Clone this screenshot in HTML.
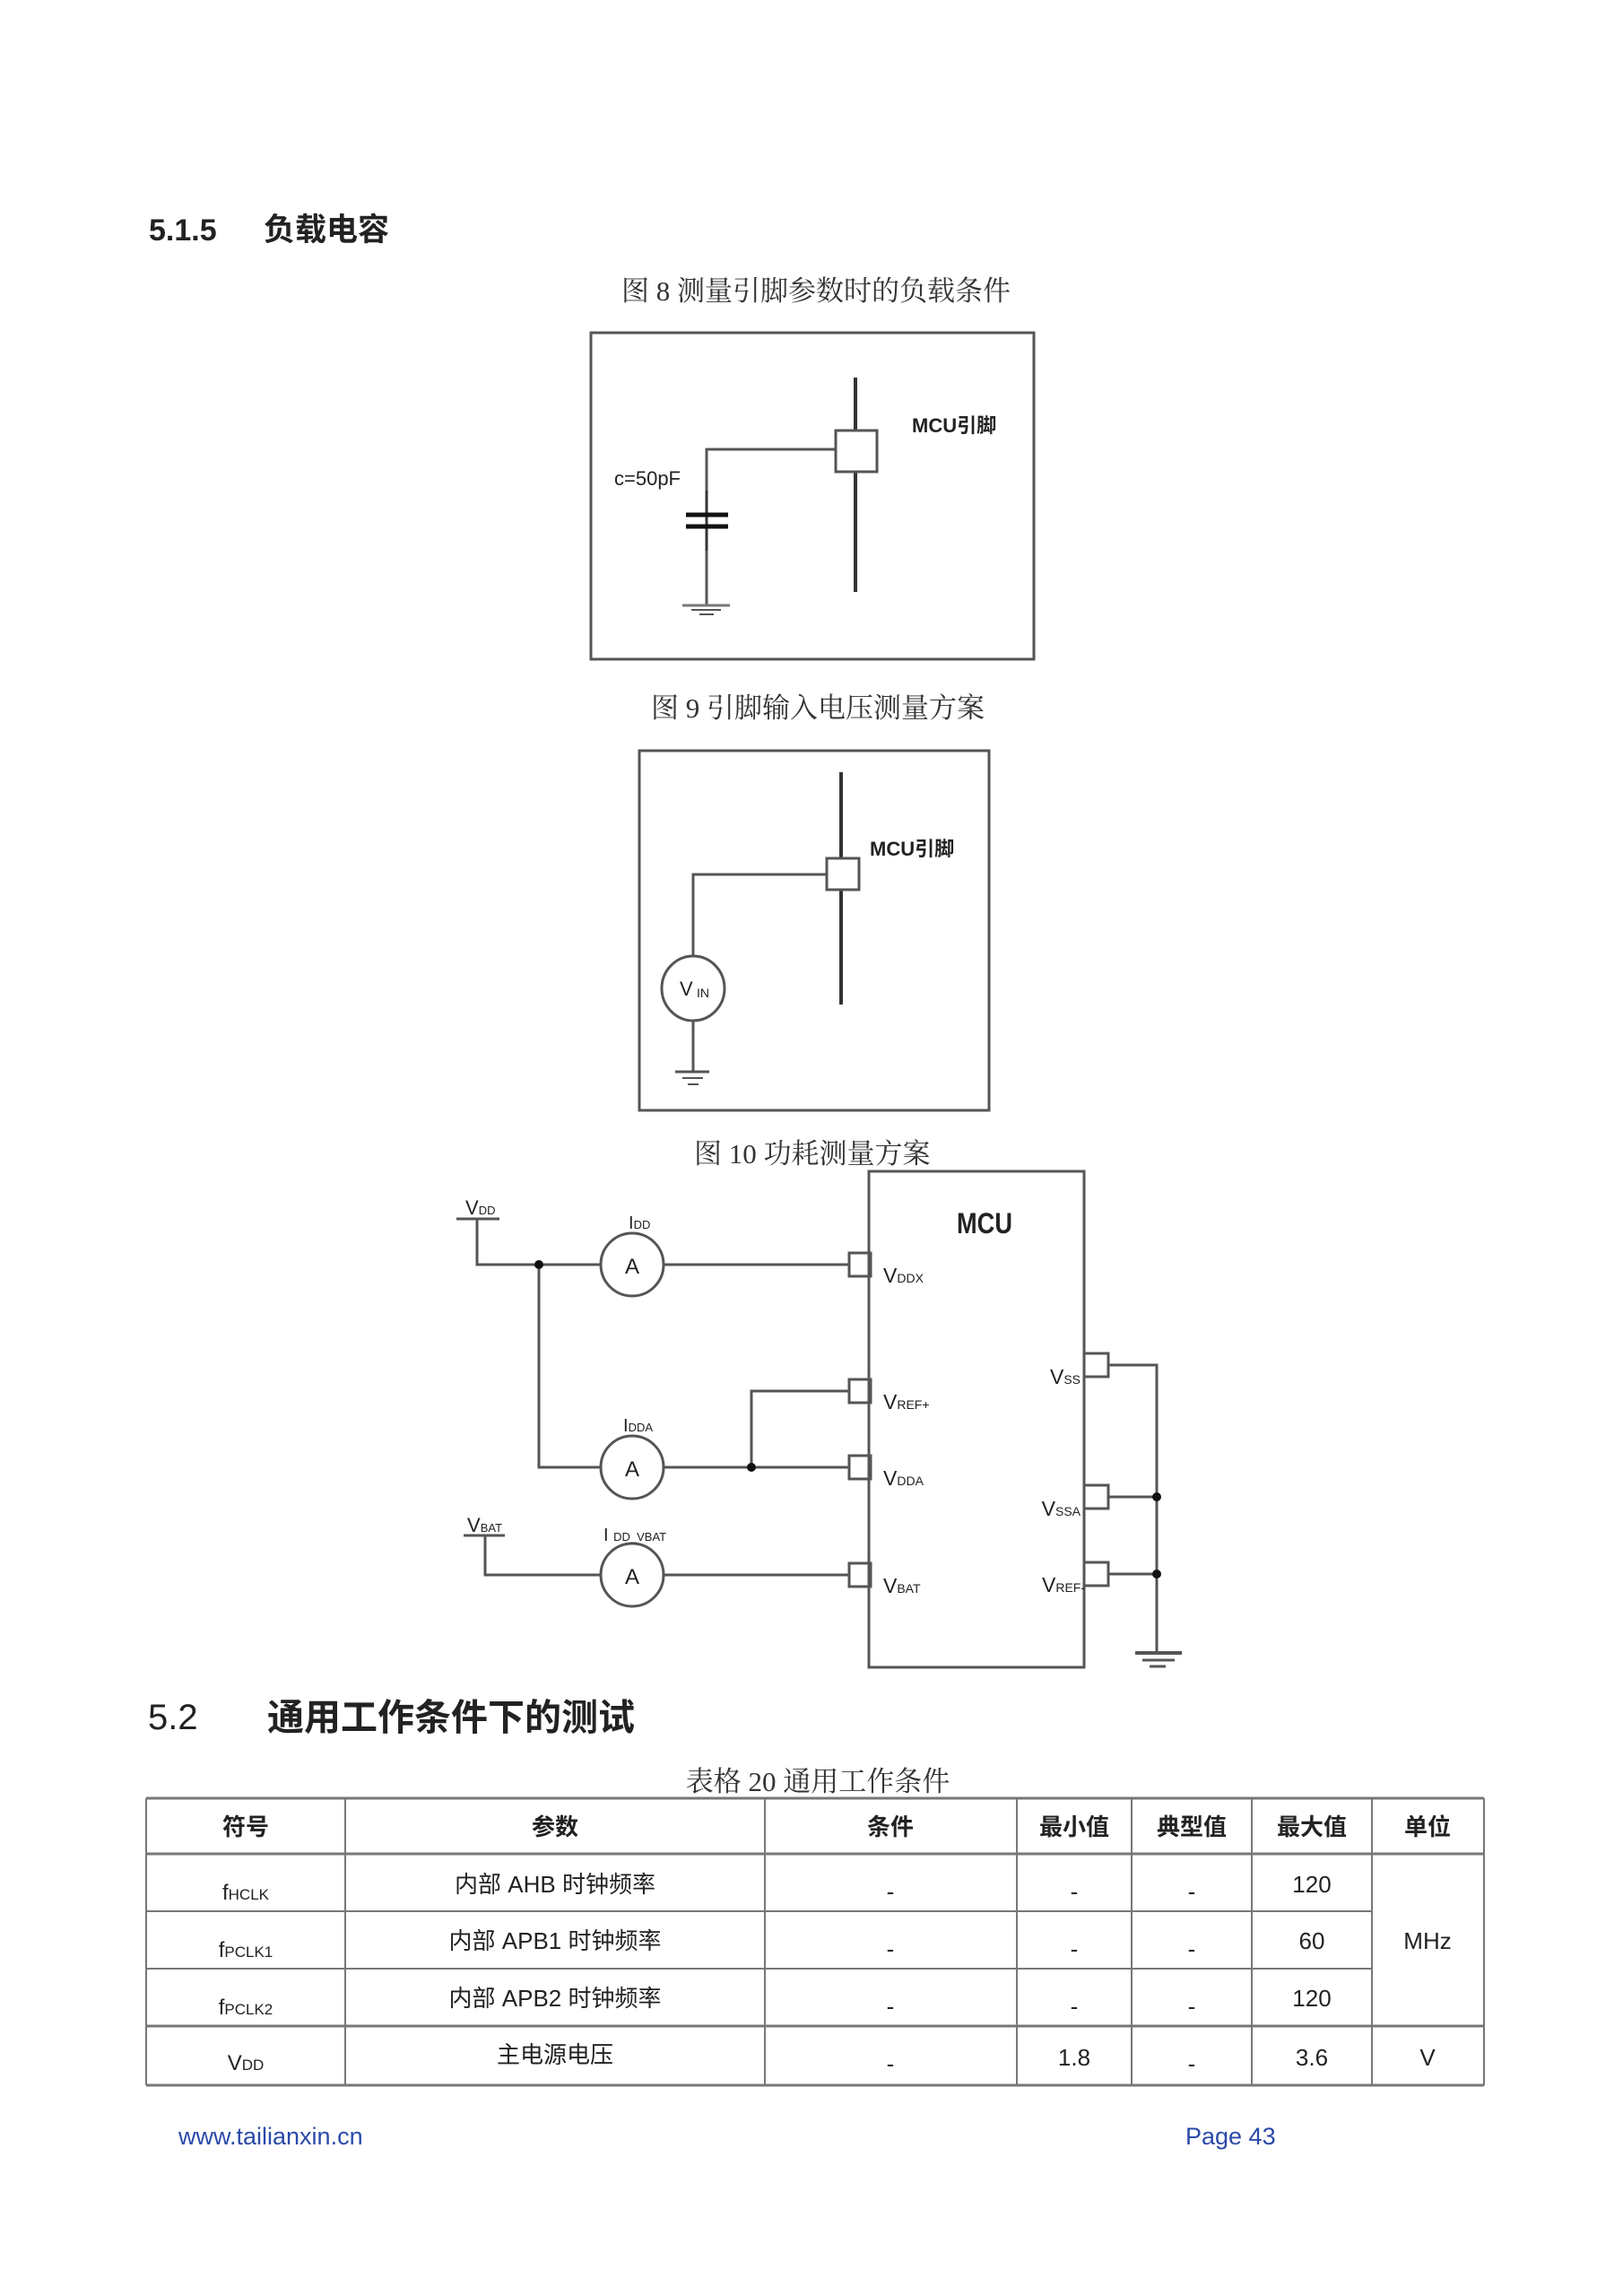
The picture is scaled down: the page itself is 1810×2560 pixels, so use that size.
<!DOCTYPE html>
<html><head><meta charset="utf-8"><style>
html,body{margin:0;padding:0;background:#fff;}
svg{display:block;}
text{font-family:"Liberation Sans","Noto Sans CJK SC",sans-serif;fill:#222;}
.s{font-family:"Liberation Serif","Noto Serif CJK SC",serif;fill:#333;}
</style></head><body>
<svg width="1810" height="2560" viewBox="0 0 1810 2560" xmlns="http://www.w3.org/2000/svg">
<text x="166" y="268" font-size="34" font-weight="bold">5.1.5</text>
<text x="294" y="268" font-size="35" font-weight="bold">负载电容</text>

<text x="910" y="335" font-size="31" text-anchor="middle" class="s">图  8 测量引脚参数时的负载条件</text>
<rect x="659" y="371" width="494" height="364" fill="none" stroke="#555" stroke-width="3"/>
<line x1="954" y1="421" x2="954" y2="660" stroke="#333" stroke-width="4"/>
<rect x="932" y="480" width="46" height="46" fill="#fff" stroke="#555" stroke-width="3"/>
<polyline points="932,501 788,501 788,547" fill="none" stroke="#555" stroke-width="3"/>
<line x1="788" y1="547" x2="788" y2="614" stroke="#333" stroke-width="3"/>
<line x1="765" y1="574" x2="812" y2="574" stroke="#111" stroke-width="5"/>
<line x1="765" y1="587" x2="812" y2="587" stroke="#111" stroke-width="5"/>
<line x1="788" y1="614" x2="788" y2="675" stroke="#555" stroke-width="3"/>
<line x1="761" y1="675" x2="814" y2="675" stroke="#777" stroke-width="3"/>
<line x1="771" y1="680" x2="804" y2="680" stroke="#555" stroke-width="2"/>
<line x1="780" y1="685" x2="796" y2="685" stroke="#555" stroke-width="2"/>
<text x="685" y="541" font-size="22">c=50pF</text>
<text x="1017" y="482" font-size="22" font-weight="bold">MCU引脚</text>

<text x="912" y="800" font-size="31" text-anchor="middle" class="s">图  9 引脚输入电压测量方案</text>
<rect x="713" y="837" width="390" height="401" fill="none" stroke="#555" stroke-width="3"/>
<line x1="938" y1="861" x2="938" y2="1120" stroke="#333" stroke-width="4"/>
<rect x="922" y="957" width="36" height="35" fill="#fff" stroke="#555" stroke-width="3"/>
<polyline points="922,975 773,975 773,1066" fill="none" stroke="#555" stroke-width="3"/>
<ellipse cx="773" cy="1102" rx="35" ry="36" fill="#fff" stroke="#555" stroke-width="3"/>
<text x="758" y="1110" font-size="22">V</text><text x="777" y="1112" font-size="14">IN</text>
<line x1="773" y1="1138" x2="773" y2="1195" stroke="#555" stroke-width="3"/>
<line x1="753" y1="1195" x2="791" y2="1195" stroke="#555" stroke-width="3"/>
<line x1="761" y1="1202" x2="784" y2="1202" stroke="#555" stroke-width="2"/>
<line x1="767" y1="1209" x2="779" y2="1209" stroke="#555" stroke-width="2"/>
<text x="970" y="954" font-size="22" font-weight="bold">MCU引脚</text>

<text x="774" y="1297" font-size="31" class="s">图  10 功耗测量方案</text>
<rect x="969" y="1306" width="240" height="553" fill="none" stroke="#555" stroke-width="3"/>
<text x="1098" y="1375" font-size="32" text-anchor="middle" font-weight="bold" transform="translate(1098 0) scale(0.85 1) translate(-1098 0)">MCU</text>
<g stroke="#555" stroke-width="3" fill="none">
<line x1="509" y1="1359" x2="557" y2="1359"/>
<polyline points="532,1359 532,1410 670,1410"/>
<line x1="740" y1="1410" x2="947" y2="1410"/>
<polyline points="601,1410 601,1636 670,1636"/>
<line x1="740" y1="1636" x2="947" y2="1636"/>
<polyline points="838,1636 838,1551 947,1551"/>
<line x1="517" y1="1712" x2="563" y2="1712"/>
<polyline points="541,1712 541,1756 670,1756"/>
<line x1="740" y1="1756" x2="947" y2="1756"/>
<circle cx="705" cy="1410" r="35"/>
<circle cx="705" cy="1636" r="35"/>
<circle cx="705" cy="1756" r="35"/>
<rect x="947" y="1397" width="24" height="26"/>
<rect x="947" y="1538" width="24" height="26"/>
<rect x="947" y="1623" width="24" height="26"/>
<rect x="947" y="1743" width="24" height="26"/>
<rect x="1209" y="1509" width="27" height="26"/>
<rect x="1209" y="1656" width="27" height="26"/>
<rect x="1209" y="1742" width="27" height="26"/>
<polyline points="1236,1522 1290,1522 1290,1843"/>
<line x1="1236" y1="1669" x2="1290" y2="1669"/>
<line x1="1236" y1="1755" x2="1290" y2="1755"/>
<line x1="1266" y1="1843" x2="1318" y2="1843" stroke-width="4"/>
<line x1="1274" y1="1851" x2="1310" y2="1851"/>
<line x1="1282" y1="1858" x2="1300" y2="1858"/>
</g>
<g fill="#111"><circle cx="601" cy="1410" r="5"/><circle cx="838" cy="1636" r="5"/><circle cx="1290" cy="1669" r="5"/><circle cx="1290" cy="1755" r="5"/></g>
<text x="697" y="1420" font-size="24">A</text>
<text x="697" y="1646" font-size="24">A</text>
<text x="697" y="1766" font-size="24">A</text>
<text x="519" y="1354" font-size="22">V<tspan font-size="13">DD</tspan></text>
<text x="521" y="1708" font-size="22">V<tspan font-size="13">BAT</tspan></text>
<text x="701" y="1370" font-size="20">I<tspan font-size="13">DD</tspan></text>
<text x="695" y="1596" font-size="20">I<tspan font-size="13">DDA</tspan></text>
<text x="673" y="1718" font-size="20">I <tspan font-size="13">DD_VBAT</tspan></text>
<text x="985" y="1430" font-size="23">V<tspan font-size="14">DDX</tspan></text>
<text x="985" y="1571" font-size="23">V<tspan font-size="14">REF+</tspan></text>
<text x="985" y="1656" font-size="23">V<tspan font-size="14">DDA</tspan></text>
<text x="985" y="1776" font-size="23">V<tspan font-size="14">BAT</tspan></text>
<text x="1205" y="1543" font-size="23" text-anchor="end">V<tspan font-size="14">SS</tspan></text>
<text x="1205" y="1690" font-size="23" text-anchor="end">V<tspan font-size="14">SSA</tspan></text>
<text x="1210" y="1775" font-size="23" text-anchor="end">V<tspan font-size="14">REF-</tspan></text>

<text x="165" y="1928" font-size="40">5.2</text>
<text x="298" y="1929" font-size="41" font-weight="bold">通用工作条件下的测试</text>
<text x="912" y="1997" font-size="31" text-anchor="middle" class="s">表格  20 通用工作条件</text>

<g stroke="#777" stroke-width="2" fill="none">
<line x1="163" y1="2005" x2="1655" y2="2005" stroke-width="3"/>
<line x1="163" y1="2067" x2="1655" y2="2067" stroke-width="3"/>
<line x1="163" y1="2131" x2="1530" y2="2131"/>
<line x1="163" y1="2195" x2="1530" y2="2195"/>
<line x1="163" y1="2259" x2="1655" y2="2259" stroke-width="3"/>
<line x1="163" y1="2325" x2="1655" y2="2325" stroke-width="3"/>
<line x1="163" y1="2005" x2="163" y2="2325"/>
<line x1="385" y1="2005" x2="385" y2="2325"/>
<line x1="853" y1="2005" x2="853" y2="2325"/>
<line x1="1134" y1="2005" x2="1134" y2="2325"/>
<line x1="1262" y1="2005" x2="1262" y2="2325"/>
<line x1="1396" y1="2005" x2="1396" y2="2325"/>
<line x1="1530" y1="2005" x2="1530" y2="2325"/>
<line x1="1655" y1="2005" x2="1655" y2="2325"/>
</g>
<g font-size="26" text-anchor="middle">
<text x="274" y="2046" font-weight="bold">符号</text>
<text x="619" y="2046" font-weight="bold">参数</text>
<text x="993" y="2046" font-weight="bold">条件</text>
<text x="1198" y="2046" font-weight="bold">最小值</text>
<text x="1329" y="2046" font-weight="bold">典型值</text>
<text x="1463" y="2046" font-weight="bold">最大值</text>
<text x="1592" y="2046" font-weight="bold">单位</text>
<text x="274" y="2118" font-size="24">f<tspan font-size="17">HCLK</tspan></text>
<text x="274" y="2182" font-size="24">f<tspan font-size="17">PCLK1</tspan></text>
<text x="274" y="2246" font-size="24">f<tspan font-size="17">PCLK2</tspan></text>
<text x="274" y="2308" font-size="24">V<tspan font-size="17">DD</tspan></text>
<text x="619" y="2110">内部 AHB 时钟频率</text>
<text x="619" y="2173">内部 APB1 时钟频率</text>
<text x="619" y="2237">内部 APB2 时钟频率</text>
<text x="619" y="2300">主电源电压</text>
<text x="993" y="2118">-</text><text x="993" y="2182">-</text><text x="993" y="2246">-</text><text x="993" y="2310">-</text>
<text x="1198" y="2118">-</text><text x="1198" y="2182">-</text><text x="1198" y="2246">-</text><text x="1198" y="2303">1.8</text>
<text x="1329" y="2118">-</text><text x="1329" y="2182">-</text><text x="1329" y="2246">-</text><text x="1329" y="2310">-</text>
<text x="1463" y="2110">120</text><text x="1463" y="2173">60</text><text x="1463" y="2237">120</text><text x="1463" y="2303">3.6</text>
<text x="1592" y="2173">MHz</text><text x="1592" y="2303">V</text>
</g>

<text x="199" y="2391" font-size="27" style="fill:#2a4aa8">www.tailianxin.cn</text>
<text x="1322" y="2391" font-size="27" style="fill:#2a4aa8">Page  43</text>
</svg>
</body></html>
